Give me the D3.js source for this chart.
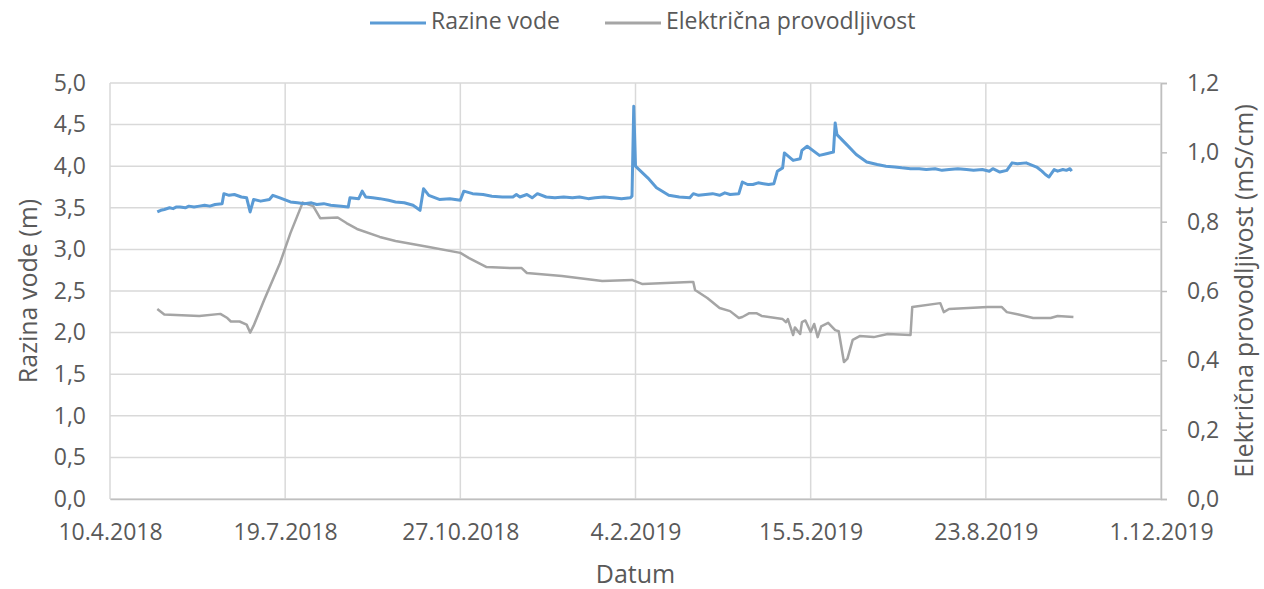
<!DOCTYPE html>
<html><head><meta charset="utf-8">
<script src="https://cdn.jsdelivr.net/npm/d3@7"></script>
<style>
html,body{margin:0;padding:0;background:#fff;}
svg text{font-family:"Open Sans",sans-serif;fill:#595959;}
</style></head>
<body><svg id="c" width="1264" height="589"></svg>
<script>
const xTickLabels = ["10.4.2018","19.7.2018","27.10.2018","4.2.2019","15.5.2019","23.8.2019","1.12.2019"];
const leftTicks = [0,0.5,1,1.5,2,2.5,3,3.5,4,4.5,5];
const rightTicks = [0,0.2,0.4,0.6,0.8,1.0,1.2];
const seriesNames = ["Razine vode","Električna provodljivost"];

const levelDates = ["2018-05-07","2018-05-09","2018-05-11","2018-05-14","2018-05-16","2018-05-18","2018-05-20","2018-05-23","2018-05-25","2018-05-28","2018-05-31","2018-06-03","2018-06-06","2018-06-09","2018-06-13","2018-06-14","2018-06-17","2018-06-20","2018-06-24","2018-06-27","2018-06-29","2018-07-01","2018-07-05","2018-07-10","2018-07-12","2018-07-16","2018-07-22","2018-07-26","2018-07-30","2018-08-03","2018-08-06","2018-08-10","2018-08-14","2018-08-20","2018-08-24","2018-08-25","2018-08-30","2018-09-01","2018-09-03","2018-09-07","2018-09-11","2018-09-16","2018-09-20","2018-09-25","2018-09-30","2018-10-04","2018-10-06","2018-10-09","2018-10-15","2018-10-21","2018-10-27","2018-10-29","2018-11-03","2018-11-09","2018-11-14","2018-11-20","2018-11-26","2018-11-28","2018-11-30","2018-12-04","2018-12-07","2018-12-10","2018-12-15","2018-12-20","2018-12-25","2018-12-30","2019-01-03","2019-01-08","2019-01-12","2019-01-17","2019-01-22","2019-01-27","2019-02-01","2019-02-02","2019-02-03","2019-02-04","2019-02-05","2019-02-11","2019-02-16","2019-02-23","2019-03-01","2019-03-07","2019-03-09","2019-03-12","2019-03-16","2019-03-20","2019-03-24","2019-03-27","2019-03-30","2019-04-04","2019-04-06","2019-04-09","2019-04-12","2019-04-15","2019-04-18","2019-04-21","2019-04-24","2019-04-26","2019-04-29","2019-04-30","2019-05-05","2019-05-09","2019-05-10","2019-05-13","2019-05-20","2019-05-24","2019-05-28","2019-05-29","2019-05-30","2019-06-05","2019-06-10","2019-06-16","2019-06-22","2019-06-27","2019-07-02","2019-07-06","2019-07-11","2019-07-16","2019-07-20","2019-07-25","2019-07-29","2019-08-02","2019-08-07","2019-08-12","2019-08-16","2019-08-21","2019-08-25","2019-08-27","2019-08-31","2019-09-04","2019-09-07","2019-09-10","2019-09-15","2019-09-21","2019-09-24","2019-09-26","2019-09-28","2019-10-01","2019-10-03","2019-10-06","2019-10-08","2019-10-10","2019-10-11"];
const levelValues = [3.45,3.47,3.48,3.50,3.49,3.51,3.51,3.50,3.52,3.51,3.52,3.53,3.52,3.54,3.55,3.67,3.65,3.66,3.63,3.62,3.45,3.60,3.58,3.60,3.65,3.62,3.57,3.56,3.55,3.56,3.54,3.55,3.53,3.52,3.51,3.62,3.61,3.70,3.63,3.62,3.61,3.59,3.57,3.56,3.53,3.47,3.73,3.65,3.60,3.61,3.59,3.70,3.67,3.66,3.64,3.63,3.63,3.66,3.63,3.66,3.62,3.67,3.63,3.62,3.63,3.62,3.63,3.61,3.62,3.63,3.62,3.61,3.62,3.64,4.72,4.00,3.98,3.86,3.74,3.65,3.63,3.62,3.67,3.65,3.66,3.67,3.65,3.68,3.66,3.67,3.81,3.78,3.78,3.80,3.79,3.78,3.79,3.94,3.98,4.16,4.07,4.09,4.19,4.24,4.13,4.15,4.17,4.52,4.38,4.25,4.14,4.05,4.02,4.00,3.99,3.98,3.97,3.97,3.96,3.97,3.95,3.96,3.97,3.96,3.95,3.96,3.94,3.97,3.93,3.95,4.04,4.03,4.04,3.99,3.94,3.90,3.87,3.96,3.94,3.96,3.95,3.97,3.94,4.04];

const condDates = ["2018-05-07","2018-05-11","2018-05-31","2018-06-12","2018-06-16","2018-06-18","2018-06-23","2018-06-27","2018-06-29","2018-07-01","2018-07-07","2018-07-16","2018-07-22","2018-07-29","2018-08-04","2018-08-08","2018-08-18","2018-08-23","2018-08-29","2018-09-11","2018-09-20","2018-10-09","2018-10-27","2018-11-01","2018-11-11","2018-11-26","2018-12-01","2018-12-04","2018-12-24","2019-01-16","2019-02-02","2019-02-08","2019-03-07","2019-03-09","2019-03-10","2019-03-17","2019-03-24","2019-03-30","2019-04-04","2019-04-06","2019-04-10","2019-04-14","2019-04-17","2019-04-29","2019-05-01","2019-05-02","2019-05-05","2019-05-06","2019-05-09","2019-05-10","2019-05-12","2019-05-15","2019-05-17","2019-05-19","2019-05-21","2019-05-25","2019-05-29","2019-05-31","2019-06-03","2019-06-05","2019-06-08","2019-06-12","2019-06-20","2019-06-28","2019-07-11","2019-07-12","2019-07-28","2019-07-30","2019-08-02","2019-08-24","2019-09-01","2019-09-04","2019-09-10","2019-09-19","2019-09-29","2019-10-03","2019-10-12"];
const condValues = [0.548,0.532,0.528,0.534,0.522,0.512,0.512,0.503,0.480,0.500,0.574,0.680,0.767,0.855,0.845,0.810,0.812,0.796,0.779,0.756,0.744,0.727,0.710,0.695,0.669,0.666,0.666,0.652,0.643,0.629,0.632,0.620,0.626,0.626,0.603,0.580,0.551,0.542,0.522,0.525,0.536,0.536,0.528,0.519,0.510,0.519,0.473,0.495,0.476,0.510,0.515,0.482,0.505,0.467,0.498,0.508,0.487,0.484,0.395,0.405,0.459,0.470,0.467,0.476,0.473,0.554,0.565,0.539,0.548,0.554,0.554,0.539,0.533,0.522,0.522,0.528,0.525];

const parse = d3.timeParse("%Y-%m-%d");
const parseTick = d3.timeParse("%d.%m.%Y");
const xTicks = xTickLabels.map(parseTick);

const L=110,R=1161,T=83,B=499;
const svg=d3.select("#c");
const x=d3.scaleTime().domain([xTicks[0],xTicks[xTicks.length-1]]).range([L,R]);
const yL=d3.scaleLinear().domain([0,5]).range([B,T]);
const yR=d3.scaleLinear().domain([0,1.2]).range([B,T]);
const grid="#d9d9d9";
const FONT="'Open Sans',sans-serif";

svg.append("g").selectAll("line").data(leftTicks).join("line")
 .attr("x1",L).attr("x2",R).attr("y1",d=>yL(d)).attr("y2",d=>yL(d))
 .attr("stroke",grid).attr("stroke-width",1.5);
svg.append("g").selectAll("line").data(xTicks).join("line")
 .attr("x1",d=>x(d)).attr("x2",d=>x(d)).attr("y1",T).attr("y2",B)
 .attr("stroke",grid).attr("stroke-width",1.5);

const xAxis=svg.append("g").attr("transform",`translate(0,${B})`)
 .call(d3.axisBottom(x).tickValues(xTicks).tickSize(0).tickPadding(25).tickFormat((d,i)=>xTickLabels[i]));
xAxis.select(".domain").attr("stroke","#bfbfbf").attr("stroke-width",1.5);
xAxis.selectAll("text").attr("font-size",23).attr("fill","#595959").style("font-family",FONT);

const yAxisL=svg.append("g").attr("transform",`translate(${L},0)`)
 .call(d3.axisLeft(yL).tickValues(leftTicks).tickSize(0).tickPadding(24).tickFormat(d=>d.toFixed(1).replace(".",",")));
yAxisL.select(".domain").remove();
yAxisL.selectAll("text").attr("font-size",23).attr("fill","#595959").style("font-family",FONT);

const yAxisR=svg.append("g").attr("transform",`translate(${R},0)`)
 .call(d3.axisRight(yR).tickValues(rightTicks).tickSize(6).tickPadding(20).tickFormat(d=>d.toFixed(1).replace(".",",")));
yAxisR.select(".domain").attr("stroke","#bfbfbf").attr("stroke-width",1.5);
yAxisR.selectAll(".tick line").attr("stroke","#bfbfbf").attr("stroke-width",1.5);
yAxisR.selectAll("text").attr("font-size",23).attr("fill","#595959").style("font-family",FONT);

const levelData=levelDates.map((d,i)=>({d:parse(d),v:levelValues[i]}));
const condData=condDates.map((d,i)=>({d:parse(d),v:condValues[i]}));
svg.append("path").datum(condData)
 .attr("d",d3.line().x(d=>x(d.d)).y(d=>yR(d.v)))
 .attr("fill","none").attr("stroke","#a5a5a5").attr("stroke-width",2.5).attr("stroke-linejoin","round");
svg.append("path").datum(levelData)
 .attr("d",d3.line().x(d=>x(d.d)).y(d=>yL(d.v)))
 .attr("fill","none").attr("stroke","#5b9bd5").attr("stroke-width",3).attr("stroke-linejoin","round");

svg.append("text").attr("transform",`translate(30,${(T+B)/2}) rotate(-90)`)
 .attr("text-anchor","middle").attr("dominant-baseline","middle").attr("font-size",25).text("Razina vode (m)");
svg.append("text").attr("transform",`translate(1246,${(T+B)/2}) rotate(-90)`)
 .attr("text-anchor","middle").attr("dominant-baseline","middle").attr("font-size",25).text("Električna provodljivost (mS/cm)");
svg.append("text").attr("x",(L+R)/2).attr("y",583)
 .attr("text-anchor","middle").attr("font-size",25).text("Datum");

const legendItems=[{name:seriesNames[0],color:"#5b9bd5",x:370},{name:seriesNames[1],color:"#a5a5a5",x:605}];
const lg=svg.append("g").selectAll("g").data(legendItems).join("g").attr("transform",d=>`translate(${d.x},23)`);
lg.append("line").attr("x1",0).attr("x2",56).attr("stroke",d=>d.color).attr("stroke-width",3);
lg.append("text").attr("x",61).attr("dominant-baseline","middle").attr("font-size",23).text(d=>d.name);
</script></body></html>
